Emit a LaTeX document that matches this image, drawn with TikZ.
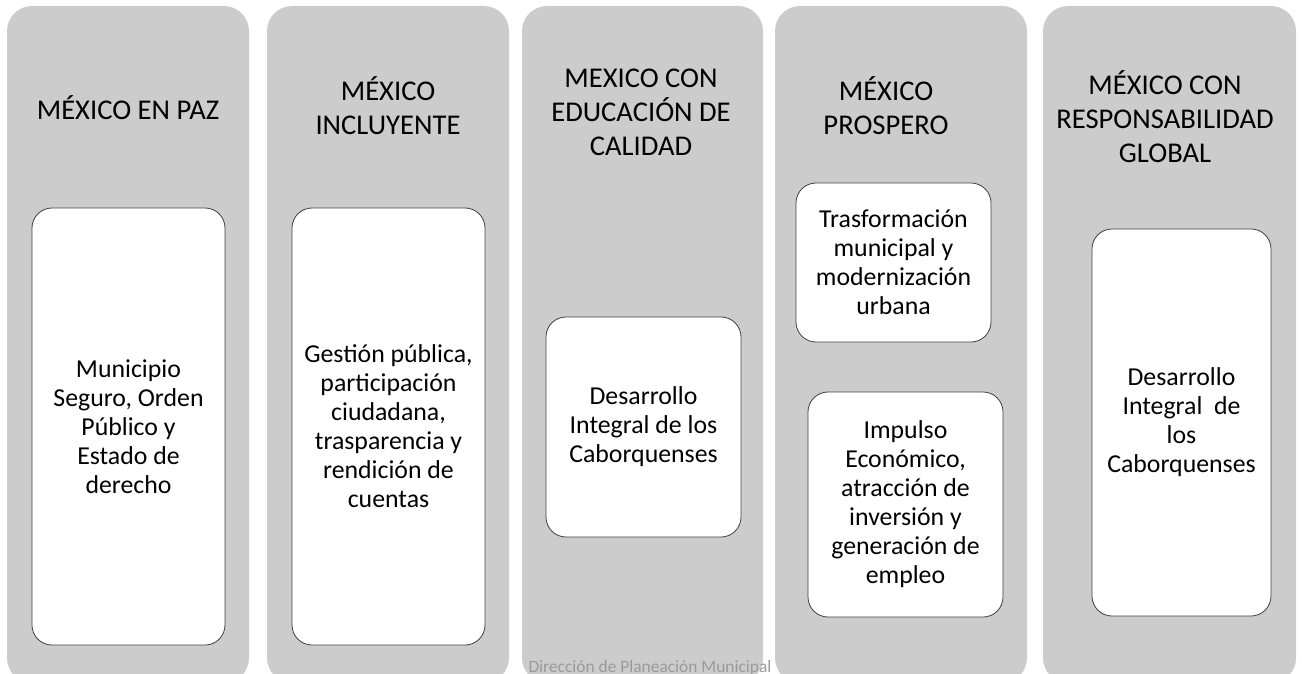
\documentclass[tikz,border=0pt]{standalone}
\usepackage{fontspec}
\setmainfont{Carlito}
\definecolor{colgrey}{HTML}{CCCCCC}
\definecolor{boxline}{HTML}{404040}
\definecolor{footgrey}{HTML}{9A9A9A}

\begin{document}
\begin{tikzpicture}[x=1pt, y=-1pt,
    colbox/.style={rectangle, rounded corners=25pt, fill=colgrey, draw=none,
      inner sep=0pt, minimum width=#1, minimum height=677pt},
    title/.style={align=center, inner sep=0pt,
      font=\fontsize{28.6}{34}\selectfont},
    item/.style={rectangle, rounded corners=20pt, fill=white, draw=boxline,
      line width=0.8pt, align=center, inner sep=0pt,
      font=\fontsize{25.8}{29}\selectfont}]
    \useasboundingbox (0, 0) rectangle (1302, 674);

    % 1. columnas grises
    \node [colbox=242pt] (col1) at (128, 344.5) {};
    \node [colbox=242pt] (col2) at (388, 344.5) {};
    \node [colbox=241pt] (col3) at (642.5, 344.5) {};
    \node [colbox=252pt] (col4) at (901, 344.5) {};
    \node [colbox=253pt] (col5) at (1169.5, 344.5) {};

    % 2. titulos de cada columna
    \node [title] (t1) at (128, 108) {MÉXICO EN PAZ};
    \node [title] (t2) at (388, 106) {MÉXICO\\INCLUYENTE};
    \node [title] (t3) at (641, 112) {MEXICO CON\\EDUCACIÓN DE\\CALIDAD};
    \node [title] (t4) at (886, 106) {MÉXICO\\PROSPERO};
    \node [title] (t5) at (1165, 117) {MÉXICO CON\\RESPONSABILIDAD\\GLOBAL};

    % 3. cuadros blancos
    \node [item, minimum width=193pt, minimum height=437pt] (b1) at (128.5, 426.5)
      {Municipio\\Seguro, Orden\\Público y\\Estado de\\derecho};
    \node [item, minimum width=193pt, minimum height=437pt] (b2) at (388.5, 426.5)
      {Gestión pública,\\participación\\ciudadana,\\trasparencia y\\rendición de\\cuentas};
    \node [item, minimum width=195pt, minimum height=220pt] (b3) at (643.5, 427)
      {Desarrollo\\Integral de los\\Caborquenses};
    \node [item, minimum width=195pt, minimum height=159pt] (b4a) at (893.5, 262.5)
      {Trasformación\\municipal y\\modernización\\urbana};
    \node [item, minimum width=195pt, minimum height=225pt] (b4b) at (905.5, 504.5)
      {Impulso\\Económico,\\atracción de\\inversión y\\generación de\\empleo};
    \node [item, minimum width=179pt, minimum height=387pt] (b5) at (1181.5, 422.5)
      {Desarrollo\\Integral\ \ de\\los\\Caborquenses};

    % 4. pie
    \node [anchor=base, inner sep=0pt, text=footgrey,
      font=\fontsize{17.4}{20}\selectfont] (pie) at (650, 672)
      {Dirección de Planeación Municipal};
\end{tikzpicture}
\end{document}
